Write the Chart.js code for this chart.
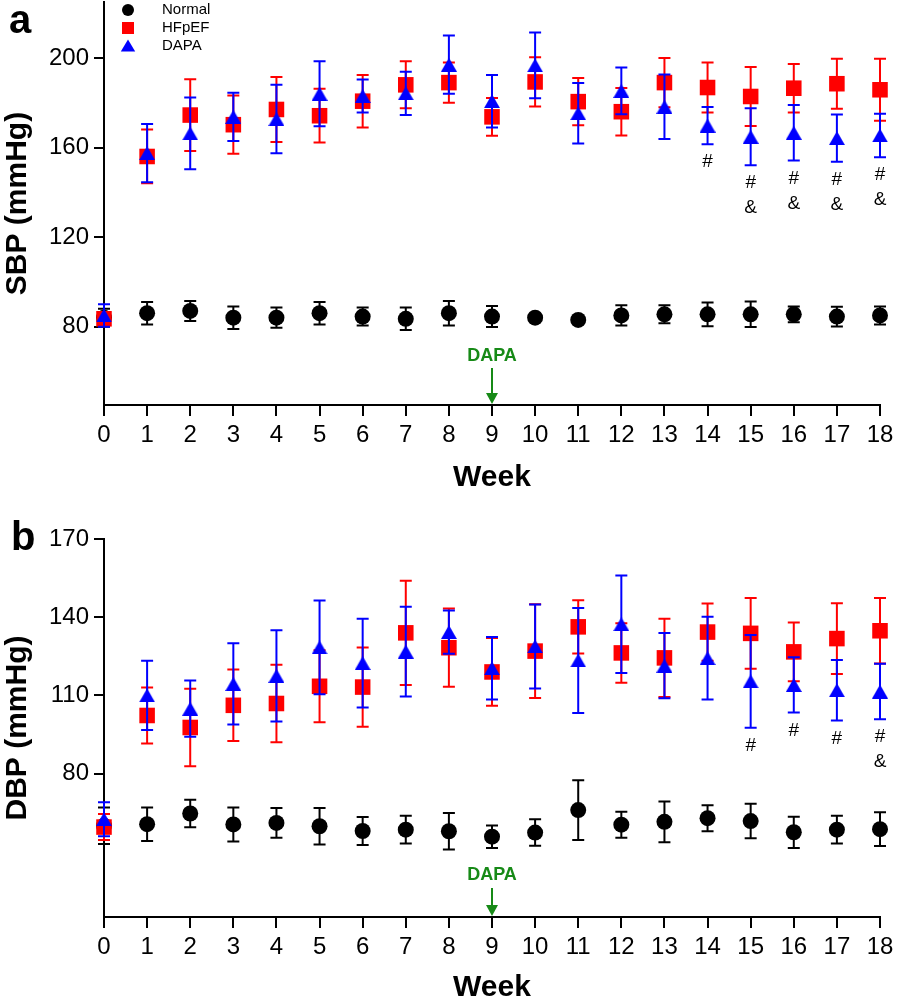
<!DOCTYPE html>
<html>
<head>
<meta charset="utf-8">
<script src="https://cdn.jsdelivr.net/npm/chart.js@4.4.1/dist/chart.umd.min.js"></script>
<style>
    body { margin: 0; background: #fff; }
    #wrap { position: relative; width: 898px; height: 1001px; }
    .panel { position: absolute; left: 0; width: 898px; }
</style>
</head>
<body>
<div id="wrap">
    <div class="panel" style="top:0;height:500px"><canvas id="sbpChart"></canvas></div>
    <div class="panel" style="top:500px;height:501px"><canvas id="dbpChart"></canvas></div>
</div>
<script>
// ---- data (mean ± SEM) ----
const weeks = [0, 1, 2, 3, 4, 5, 6, 7, 8, 9, 10, 11, 12, 13, 14, 15, 16, 17, 18];

// panel a - SBP
const sbpNormal = [84, 86, 87, 84, 84, 86, 84.5, 83.5, 86, 84.5, 84, 83, 85, 85.5, 85.5, 85.5, 85.5, 84.5, 85];
const sbpNormalErr = [4, 5, 4.5, 5, 4.5, 5, 4, 5, 5.5, 4.7, 1.5, 1, 4.5, 4, 5.3, 5.7, 3.5, 4.4, 4];
const sbpHF = [83.5, 156, 174.5, 170.2, 177, 174.2, 180.7, 188, 189, 173.7, 189.3, 180.5, 176, 189, 186.8, 182.8, 186.5, 188.5, 185.8];
const sbpHFErr = [3, 12, 16, 13, 14.5, 12, 11.7, 10.5, 9, 8.4, 11, 10.5, 10.6, 11, 11.2, 13.2, 10.8, 11.2, 13.8];
const sbpDapa = [85, 157.5, 166.3, 173.7, 172.7, 184, 183, 184.2, 197, 180.7, 196.7, 175.3, 185.3, 178.2, 169.8, 164.8, 166.6, 164.2, 165.4];
const sbpDapaErr = [5, 13, 16, 10.8, 15.3, 14.5, 7.4, 9.7, 13, 11.7, 14.7, 13.5, 10.4, 14.4, 8.3, 12.7, 12.4, 10.5, 9.7];
const sbpMarks = ['', '', '', '', '', '', '', '', '', '', '', '', '', '', '#', '#\n&', '#\n&', '#\n&', '#\n&'];
const sbpTicks = [80, 120, 160, 200];

// panel b - DBP
const dbpNormal = [60, 60.6, 64.7, 60.5, 61.1, 59.8, 58, 58.5, 57.9, 55.8, 57.4, 66, 60.4, 61.5, 62.9, 61.8, 57.5, 58.5, 58.7];
const dbpNormalErr = [7, 6.4, 5.3, 6.5, 5.7, 7, 5.4, 5.3, 7, 4.3, 5.1, 11.5, 5, 7.8, 5, 6.6, 6, 5.3, 6.5];
const dbpHF = [59.5, 102.3, 97.7, 106.2, 106.9, 113.5, 113.2, 134, 128.3, 119, 127, 136.3, 126.3, 124.4, 134.3, 133.8, 126.7, 131.8, 134.8];
const dbpHFErr = [5, 10.7, 14.9, 13.7, 14.9, 13.8, 15.2, 20, 15, 13, 18, 10.2, 11.4, 15, 11, 13.6, 11.3, 13.6, 12.6];
const dbpDapa = [62.5, 110, 104.9, 114.4, 117.5, 128.4, 122.4, 126.8, 134.3, 120.4, 128.8, 123.4, 137.3, 121.4, 124.3, 115.4, 114, 112, 111.5];
const dbpDapaErr = [6.5, 13.3, 10.8, 15.6, 17.5, 18, 17, 17.2, 8.3, 12, 16.1, 20.1, 18.7, 12.5, 15.9, 17.8, 10.6, 11.6, 10.6];
const dbpMarks = ['', '', '', '', '', '', '', '', '', '', '', '', '', '', '', '#', '#', '#', '#\n&'];
const dbpTicks = [80, 110, 140, 170];

const FONT = '"Liberation Sans", Arial, sans-serif';
const GREEN = '#178a17';

// triangle centred on its bounding box (the built-in one sits a bit high)
function triangleImage(w, h, color) {
    const c = document.createElement('canvas');
    c.width = w;
    c.height = h;
    const g = c.getContext('2d');
    g.fillStyle = color;
    g.beginPath();
    g.moveTo(w / 2, 0);
    g.lineTo(w, h);
    g.lineTo(0, h);
    g.closePath();
    g.fill();
    return c;
}

// error bars drawn right before each dataset's points
const errorBarPlugin = {
    id: 'errorBars',
    beforeDatasetDraw(chart, args) {
        const ds = chart.data.datasets[args.index];
        if (!ds.errors) return;
        const xs = chart.scales.x, ys = chart.scales.y, ctx = chart.ctx;
        ctx.save();
        ctx.strokeStyle = ds.borderColor;
        ctx.lineWidth = 2;
        ds.data.forEach((p, i) => {
            const px = xs.getPixelForValue(p.x);
            const top = ys.getPixelForValue(p.y + ds.errors[i]);
            const bot = ys.getPixelForValue(p.y - ds.errors[i]);
            ctx.beginPath();
            ctx.moveTo(px, top); ctx.lineTo(px, bot);
            ctx.moveTo(px - 6, top); ctx.lineTo(px + 6, top);
            ctx.moveTo(px - 6, bot); ctx.lineTo(px + 6, bot);
            ctx.stroke();
        });
        ctx.restore();
    }
};

function drawMarker(ctx, shape, x, y, r, color) {
    ctx.fillStyle = color;
    ctx.beginPath();
    if (shape === 'circle') {
        ctx.arc(x, y, r, 0, Math.PI * 2);
    } else if (shape === 'rect') {
        ctx.rect(x - r, y - r, 2 * r, 2 * r);
    } else {
        ctx.moveTo(x, y - r * 1.1);
        ctx.lineTo(x + r * 1.2, y + r * 0.9);
        ctx.lineTo(x - r * 1.2, y + r * 0.9);
        ctx.closePath();
    }
    ctx.fill();
}

// panel letter, legend, DAPA arrow and # / & marks
const extrasPlugin = {
    id: 'extras',
    afterDraw(chart, args, opts) {
        const ctx = chart.ctx;
        const xs = chart.scales.x, ys = chart.scales.y;
        const area = chart.chartArea;
        ctx.save();

        // panel letter
        ctx.fillStyle = '#000';
        ctx.font = 'bold 40px ' + FONT;
        ctx.textAlign = 'left';
        ctx.textBaseline = 'alphabetic';
        ctx.fillText(opts.letter, opts.letterX, opts.letterY);

        // legend
        if (opts.legend) {
            ctx.font = '15px ' + FONT;
            ctx.textBaseline = 'middle';
            chart.data.datasets.forEach((ds, i) => {
                const y = 10 + i * 18;
                drawMarker(ctx, ds.shape, 128, y, 6, ds.backgroundColor);
                ctx.fillStyle = '#000';
                ctx.fillText(ds.label, 162, y);
            });
        }

        // DAPA arrow at week 9
        const ax = xs.getPixelForValue(9);
        ctx.fillStyle = GREEN;
        ctx.strokeStyle = GREEN;
        ctx.font = 'bold 18px ' + FONT;
        ctx.textAlign = 'center';
        ctx.textBaseline = 'middle';
        ctx.fillText('DAPA', ax, area.bottom - opts.textGap);
        ctx.lineWidth = 2;
        ctx.beginPath();
        ctx.moveTo(ax, area.bottom - opts.arrowLen);
        ctx.lineTo(ax, area.bottom - 10);
        ctx.stroke();
        ctx.beginPath();
        ctx.moveTo(ax - 6, area.bottom - 12);
        ctx.lineTo(ax + 6, area.bottom - 12);
        ctx.lineTo(ax, area.bottom - 1);
        ctx.closePath();
        ctx.fill();

        // significance marks under the DAPA error bars
        const dapa = chart.data.datasets[2];
        ctx.fillStyle = '#000';
        ctx.font = '19px ' + FONT;
        opts.marks.forEach((m, i) => {
            if (!m) return;
            const p = dapa.data[i];
            const px = xs.getPixelForValue(p.x);
            const base = ys.getPixelForValue(p.y - dapa.errors[i]) + 18;
            m.split('\n').forEach((line, k) => ctx.fillText(line, px, base + k * 25));
        });
        ctx.restore();
    }
};

function buildSet(label, means, errs, color, shape, radius, order) {
    return {
        label: label,
        order: order,
        errors: errs,
        shape: shape,
        data: weeks.map((w, i) => ({ x: w, y: means[i] })),
        pointStyle: shape === 'triangle' ? triangleImage(16, 14, color) : shape,
        pointRadius: radius,
        pointHoverRadius: radius,
        backgroundColor: color,
        borderColor: color,
        pointBorderWidth: 0,
        clip: false
    };
}

function makeChart(id, sets, yMin, yMax, yTicks, yTitle, padTop, xHeight, titlePad, extras) {
    const ctx = document.getElementById(id).getContext('2d');
    return new Chart(ctx, {
        type: 'scatter',
        data: { datasets: sets },
        options: {
            responsive: true,
            maintainAspectRatio: false,
            animation: false,
            layout: { autoPadding: false, padding: { top: padTop, right: 18, bottom: 0, left: 0 } },
            plugins: {
                legend: { display: false },
                tooltip: { enabled: false },
                extras: extras
            },
            scales: {
                x: {
                    type: 'linear',
                    min: 0,
                    max: 18,
                    afterBuildTicks: s => { s.ticks = weeks.map(v => ({ value: v })); },
                    afterFit: s => { s.height = xHeight; s.paddingLeft = 0; s.paddingRight = 0; },
                    ticks: { color: '#000', font: { family: FONT, size: 24 }, padding: 5, maxRotation: 0, autoSkip: false },
                    grid: { drawOnChartArea: false, drawTicks: true, tickLength: 11, color: '#000', lineWidth: 2 },
                    border: { color: '#000', width: 2 },
                    title: {
                        display: true, text: 'Week', color: '#000',
                        font: { family: FONT, size: 30, weight: 'bold', lineHeight: 1 },
                        padding: { top: 0, bottom: titlePad }
                    }
                },
                y: {
                    type: 'linear',
                    min: yMin,
                    max: yMax,
                    afterBuildTicks: s => { s.ticks = yTicks.map(v => ({ value: v })); },
                    afterFit: s => { s.width = 104; s.paddingTop = 0; s.paddingBottom = 0; },
                    ticks: { color: '#000', font: { family: FONT, size: 24 }, padding: 5 },
                    grid: { drawOnChartArea: false, drawTicks: true, tickLength: 10, color: '#000', lineWidth: 2 },
                    border: { color: '#000', width: 2 },
                    title: {
                        display: true, text: yTitle, color: '#000',
                        font: { family: FONT, size: 30, weight: 'bold', lineHeight: 1 },
                        padding: { top: 3, bottom: 0 }
                    }
                }
            }
        },
        plugins: [errorBarPlugin, extrasPlugin]
    });
}

makeChart('sbpChart', [
    buildSet('Normal', sbpNormal, sbpNormalErr, '#000000', 'circle', 8, 2),
    buildSet('HFpEF', sbpHF, sbpHFErr, '#ff0000', 'rect', 11, 1),
    buildSet('DAPA', sbpDapa, sbpDapaErr, '#0000ff', 'triangle', 9, 0)
], 45, 225, sbpTicks, 'SBP (mmHg)', 2, 95, 7,
    { letter: 'a', letterX: 9, letterY: 33, legend: true, marks: sbpMarks, textGap: 49, arrowLen: 37 });

makeChart('dbpChart', [
    buildSet('Normal', dbpNormal, dbpNormalErr, '#000000', 'circle', 8, 2),
    buildSet('HFpEF', dbpHF, dbpHFErr, '#ff0000', 'rect', 11, 1),
    buildSet('DAPA', dbpDapa, dbpDapaErr, '#0000ff', 'triangle', 9, 0)
], 25, 170, dbpTicks, 'DBP (mmHg)', 39, 84, -2,
    { letter: 'b', letterX: 11, letterY: 50, legend: false, marks: dbpMarks, textGap: 42, arrowLen: 29 });
</script>
</body>
</html>
